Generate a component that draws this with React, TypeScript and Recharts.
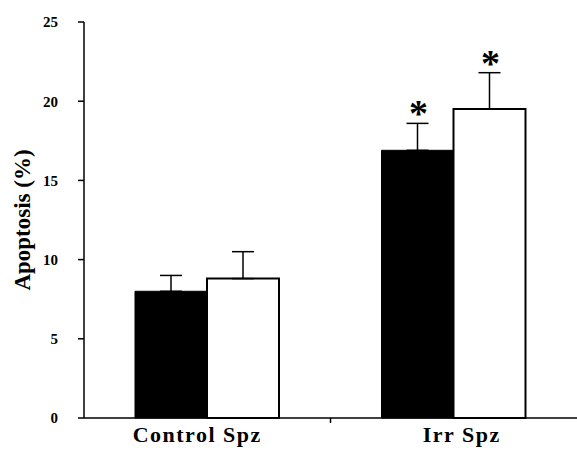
import { BarChart, Bar, XAxis, YAxis, ErrorBar, LabelList } from "recharts";

const categories = ["Control Spz", "Irr Spz"];
const darkValues = [8.0, 16.9];
const darkErrors = [1.0, 1.7];
const lightValues = [8.8, 19.5];
const lightErrors = [1.7, 2.3];
const darkMarks = ["", "*"];
const lightMarks = ["", "*"];
const yTicks = [0, 5, 10, 15, 20, 25];

const serif = "'Liberation Serif', 'Times New Roman', serif";

const data = categories.map((name, i) => ({
  name,
  dark: darkValues[i],
  darkErr: [0, darkErrors[i]],
  light: lightValues[i],
  lightErr: [0, lightErrors[i]],
  darkMark: darkMarks[i],
  lightMark: lightMarks[i],
}));

// the original labels sit a little off the group centres
const labelShift = [-10, 8];

function makeStar(values: number[], errors: number[]) {
  return (props: any) => {
    const { x, y, width, height, value, index } = props;
    if (!value) return null;
    const perUnit = height / values[index];
    const capY = y - errors[index] * perUnit;
    return (
      <text
        x={x + width / 2 + 1}
        y={capY + 3}
        textAnchor="middle"
        fontFamily={serif}
        fontWeight="bold"
        fontSize={38}
        fill="#000"
      >
        {value}
      </text>
    );
  };
}

function CategoryTick(props: any) {
  const { x, y, payload, index, width, visibleTicksCount } = props;
  const half = width / (2 * visibleTicksCount);
  // tick mark on the boundary between groups
  const divider = index < visibleTicksCount - 1 ? x + half : null;
  return (
    <g>
      {divider !== null && (
        <line x1={divider} x2={divider} y1={y - 8} y2={y - 3} stroke="#000" strokeWidth={1.5} />
      )}
      <text
        x={x + (labelShift[index] ?? 0)}
        y={y + 16}
        textAnchor="middle"
        fontFamily={serif}
        fontWeight="bold"
        fontSize={22}
        letterSpacing={1.5}
        fill="#000"
      >
        {payload.value}
      </text>
    </g>
  );
}

export default function App() {
  return (
    <div style={{ position: "absolute", left: 0, top: 0, background: "#fff" }}>
      <BarChart
        width={577}
        height={450}
        data={data}
        margin={{ top: 22, right: 0, bottom: 2, left: 0 }}
        barCategoryGap="41%"
        barGap={0}
      >
        <XAxis
          dataKey="name"
          height={30}
          tickLine={false}
          axisLine={{ stroke: "#000", strokeWidth: 1.5 }}
          tick={<CategoryTick />}
        />
        <YAxis
          width={84}
          domain={[0, 25]}
          ticks={yTicks}
          interval={0}
          tickSize={6}
          tickMargin={20}
          axisLine={{ stroke: "#000", strokeWidth: 1.5 }}
          tickLine={{ stroke: "#000", strokeWidth: 1.5 }}
          tick={{ fill: "#000", fontSize: 15, fontWeight: "bold", fontFamily: serif }}
          label={{
            content: ({ viewBox }: any) => (
              <text
                x={22}
                y={viewBox.y + viewBox.height / 2}
                transform={`rotate(-90 22 ${viewBox.y + viewBox.height / 2})`}
                textAnchor="middle"
                dominantBaseline="central"
                fontFamily={serif}
                fontWeight="bold"
                fontSize={23}
                fill="#000"
              >
                Apoptosis (%)
              </text>
            ),
          }}
        />
        <Bar
          dataKey="dark"
          fill="#000"
          stroke="#000"
          strokeWidth={1}
          barSize={72}
          isAnimationActive={false}
        >
          <ErrorBar dataKey="darkErr" width={11} stroke="#000" strokeWidth={1.5} direction="y" />
          <LabelList dataKey="darkMark" content={makeStar(darkValues, darkErrors)} />
        </Bar>
        <Bar
          dataKey="light"
          fill="#fff"
          stroke="#000"
          strokeWidth={2}
          barSize={72}
          isAnimationActive={false}
        >
          <ErrorBar dataKey="lightErr" width={11} stroke="#000" strokeWidth={1.5} direction="y" />
          <LabelList dataKey="lightMark" content={makeStar(lightValues, lightErrors)} />
        </Bar>
      </BarChart>
    </div>
  );
}
